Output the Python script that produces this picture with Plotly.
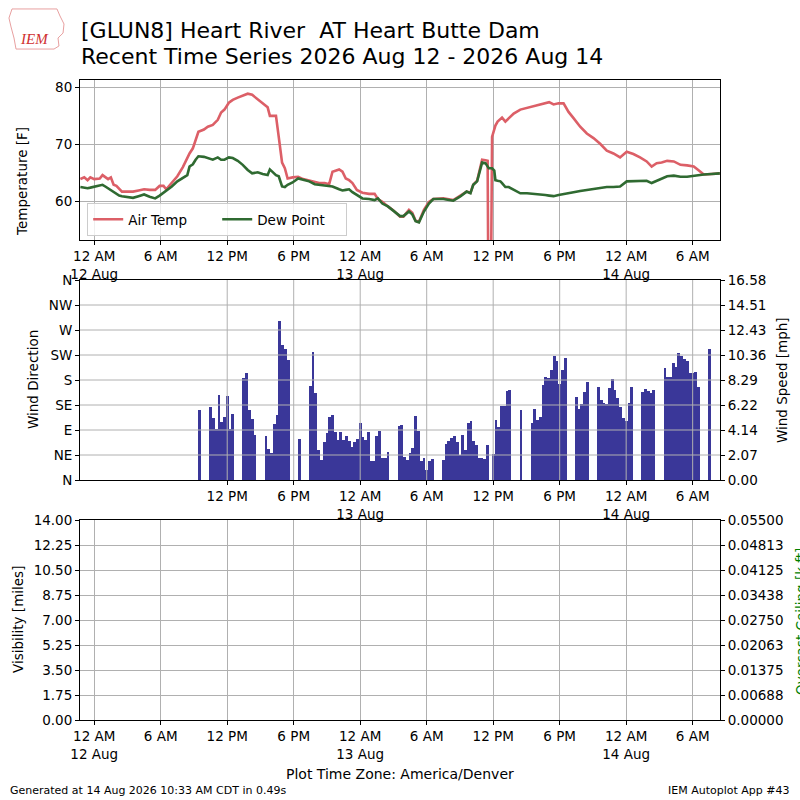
import pandas as pd
import plotly.graph_objs as go

# Air temp / dew point, hours after 2026-08-12 00:00 (America/Denver)
obs_hours = [-1.25, -0.9, -0.6, -0.35, 0.0, 0.25, 0.5, 0.75, 1.0, 1.25, 1.5, 1.75, 2.0, 2.25, 2.5,
             3.0, 3.5, 4.0, 4.5, 5.0, 5.5, 5.9, 6.25, 6.5, 7.0, 7.5, 8.0, 8.4, 8.6, 8.9, 9.15, 9.4,
             9.9, 10.25, 10.7, 11.15, 11.45, 11.75, 12.15, 12.5, 12.95, 13.4, 13.85, 14.25, 14.75,
             15.2, 15.65, 15.85, 16.4, 16.65, 16.95, 17.2, 17.45, 17.9, 18.4, 18.85, 19.4, 19.9,
             20.3, 20.8, 21.2, 21.5, 22.1, 22.4, 22.7, 23.0, 23.3, 23.7, 24.2, 24.8, 25.3, 25.6,
             26.0, 26.5, 27.0, 27.6, 27.9, 28.4, 28.7, 29.0, 29.3, 29.75, 30.2, 30.6, 31.5, 32.4,
             33.0, 33.6, 33.95, 34.2, 34.55, 34.85, 35.0, 35.3, 35.5, 35.6, 35.75, 35.9, 36.1,
             36.2, 36.4, 36.65, 36.8, 37.1, 37.4, 37.85, 38.45, 39.05, 39.65, 40.25, 40.7, 41.05,
             41.45, 41.9, 42.35, 42.8, 43.25, 43.85, 44.45, 45.05, 45.65, 46.25, 46.85, 47.45,
             48.05, 48.65, 49.25, 49.85, 50.3, 50.75, 51.2, 51.7, 52.3, 52.9, 53.5, 54.1, 54.7,
             55.0, 55.7, 56.45]
air_temp = [63.9, 64.2, 63.7, 64.2, 63.9, 64.0, 64.0, 64.6, 64.2, 63.9, 64.2, 62.9, 62.7, 62.2, 61.7,
            61.7, 61.7, 61.9, 62.1, 62.0, 62.0, 62.7, 62.7, 62.1, 63.3, 64.4, 66.0, 67.7, 68.4, 69.3,
            70.8, 72.2, 72.6, 73.1, 73.4, 74.3, 75.6, 76.1, 77.3, 77.8, 78.2, 78.6, 78.9, 78.7, 77.9,
            77.2, 76.5, 75.0, 75.0, 71.3, 66.8, 65.8, 64.0, 64.2, 64.3, 63.9, 63.6, 63.3, 63.2, 63.2,
            63.0, 65.2, 65.6, 65.2, 64.0, 63.7, 63.2, 62.0, 61.5, 61.3, 61.3, 60.4, 59.9, 59.1, 58.4,
            57.3, 57.3, 58.5, 58.0, 56.6, 56.4, 58.5, 59.9, 60.4, 60.5, 60.2, 60.9, 61.7, 61.5, 62.9,
            63.6, 65.8, 67.3, 67.2, 67.1, 32.0, 32.0, 71.3, 72.8, 73.3, 74.0, 74.4, 74.7, 74.0, 74.6,
            75.4, 76.1, 76.4, 76.7, 76.9, 77.1, 77.4, 77.0, 77.2, 77.2, 75.7, 74.6, 73.1, 71.9, 71.1,
            70.1, 68.9, 68.4, 67.7, 68.7, 68.3, 67.7, 67.0, 66.1, 66.7, 66.8, 67.1, 67.0, 66.4, 66.3,
            66.1, 65.2, 64.7, 64.8, 64.9]
dew_point = [62.5, 62.4, 62.3, 62.4, 62.6, 62.7, 62.8, 62.9, 62.6, 62.3, 62.0, 61.6, 61.3, 61.0, 60.9,
             60.7, 60.6, 60.9, 61.2, 60.8, 60.5, 61.0, 61.5, 61.9, 62.6, 63.5, 64.2, 64.6, 66.1, 66.5,
             67.3, 67.9, 67.8, 67.6, 67.3, 67.7, 67.3, 67.3, 67.7, 67.6, 67.1, 66.4, 65.5, 64.9, 65.1,
             64.8, 64.6, 65.6, 64.6, 64.4, 62.6, 62.5, 62.9, 63.3, 64.0, 63.8, 63.5, 63.0, 62.9, 62.7,
             62.7, 62.6, 62.1, 61.9, 62.0, 62.1, 61.6, 61.1, 60.5, 60.4, 60.2, 60.5, 59.6, 59.1, 58.4,
             57.4, 57.4, 58.2, 57.7, 56.5, 56.3, 58.2, 59.6, 60.4, 60.4, 60.1, 60.8, 61.7, 61.4, 62.9,
             63.5, 65.5, 66.8, 66.7, 66.0, 65.8, 65.8, 65.8, 65.4, 63.7, 63.6, 63.5, 63.2, 62.5, 62.5,
             62.0, 61.4, 61.4, 61.3, 61.3, 61.1, 61.0, 60.9, 61.1, 61.3, 61.5, 61.6, 61.8, 62.0, 62.1,
             62.4, 62.5, 62.5, 62.6, 63.5, 63.5, 63.5, 63.6, 63.2, 63.6, 64.1, 64.4, 64.5, 64.3, 64.3,
             64.5, 64.6, 64.7, 64.8, 64.9]

# Wind speed [mph], 15 minute obs starting 2026-08-12 09:30
wind_start = '2026-08-12 09:30'
N = None
wind_speed = [5.80, N, N, N, 6.05, 5.14, 4.23, 7.05, 4.81, 5.22, 6.97, 4.23, 5.47, N, N, N,
              8.46, 8.87, 5.80, 5.06, 3.73, N, N, N, 3.65, 2.57, 2.24, 4.64, 5.39, 13.18, 11.19,
              10.86, 9.95, N, N, N, 3.40, N, N, N, 7.79, 10.61, 7.21, 2.49, 1.66, 3.15, 3.90, 5.22,
              5.39, 3.98, 3.32, 3.98, 3.32, 3.65, 3.23, 2.76, 3.15, 3.40, 4.73, 3.57, 3.32, 3.98,
              1.58, 1.58, 3.65, 4.06, 1.82, 1.82, 2.32, N, N, N, 4.48, 4.56, 1.91, 1.66, 2.24, 2.65,
              5.31, 4.06, 1.58, 1.82, 0.83, 1.58, 1.74, N, N, N, 1.66, 2.99, 3.23, 3.48, 3.65, 3.15,
              2.07, 3.73, 2.49, 4.73, 4.89, 3.23, 2.90, 1.82, 1.82, 1.74, 2.90, N, 2.16, 4.98, 4.39,
              6.14, 6.14, 7.38, 7.46, N, N, N, 5.80, N, N, N, 4.73, 5.89, 4.98, 5.22, 7.88, 8.54,
              8.46, 9.12, 10.28, 9.87, 7.96, 9.12, 10.12, N, N, N, 6.88, 5.89, 6.30, 7.30, 8.13, N,
              N, N, 7.71, 6.63, 6.38, 6.30, 7.63, 8.37, 7.46, 6.80, 6.05, 5.14, 4.89, 6.38, 7.71, N,
              N, N, 7.30, 7.55, 7.38, 7.21, 7.46, N, N, N, 9.29, 8.54, 8.54, 9.70, 9.37, 10.53,
              10.28, 10.03, 9.87, 8.87, 8.87, 8.96, 7.71, N, N, N, 10.86]

tick_times = ['2026-08-12 00:00', '2026-08-12 06:00', '2026-08-12 12:00', '2026-08-12 18:00',
              '2026-08-13 00:00', '2026-08-13 06:00', '2026-08-13 12:00', '2026-08-13 18:00',
              '2026-08-14 00:00', '2026-08-14 06:00']
tick_labels = ['12 AM<br>12 Aug', '6 AM', '12 PM', '6 PM', '12 AM<br>13 Aug', '6 AM', '12 PM',
               '6 PM', '12 AM<br>14 Aug', '6 AM']
dir_vals = [0, 45, 90, 135, 180, 225, 270, 315, 360]
dir_labels = ['N', 'NE', 'E', 'SE', 'S', 'SW', 'W', 'NW', 'N']
speed_max = 16.58
vis_max = 14.0
ceil_max = 0.055

x_range = ['2026-08-11 22:43', '2026-08-14 08:28']

base = pd.Timestamp('2026-08-12 00:00')
obs_times = [base + pd.Timedelta(hours=h) for h in obs_hours]
wind_times = pd.date_range(wind_start, periods=len(wind_speed), freq='15min')

AIR = '#dc5f67'
DEW = '#2f6a31'
BAR = '#3a3799'
GRID = '#b0b0b0'
FONT = 'DejaVu Sans'

data = [
    go.Scatter(x=obs_times, y=air_temp, mode='lines', name='Air Temp',
               line=dict(color=AIR, width=2.6), xaxis='x', yaxis='y'),
    go.Scatter(x=obs_times, y=dew_point, mode='lines', name='Dew Point',
               line=dict(color=DEW, width=2.6), xaxis='x', yaxis='y'),
    go.Scatter(x=[], y=[], xaxis='x2', yaxis='y2', showlegend=False),
    go.Bar(x=wind_times, y=wind_speed, width=15 * 60 * 1000, marker=dict(color=BAR, line=dict(width=0)),
           xaxis='x2', yaxis='y3', showlegend=False),
    go.Scatter(x=[], y=[], xaxis='x3', yaxis='y4', showlegend=False),
    go.Scatter(x=[], y=[], xaxis='x3', yaxis='y5', showlegend=False),
]


def xax(anchor, vals, labels, grid=True):
    return dict(type='date', range=x_range, domain=[0.1, 0.9], anchor=anchor,
                tickmode='array', tickvals=vals, ticktext=labels,
                ticks='outside', ticklen=4, tickcolor='black', tickwidth=1,
                showline=True, linecolor='black', linewidth=1, mirror=True,
                showgrid=grid, gridcolor=GRID, gridwidth=1, zeroline=False, automargin=False,
                tickfont=dict(size=13.5, color='black'))


def yax(anchor, dom, rng, vals, labels, grid=True, side='left', overlay=None):
    d = dict(domain=dom, anchor=anchor, range=rng, tickmode='array', tickvals=vals, ticktext=labels,
             ticks='outside', ticklen=4, tickcolor='black', tickwidth=1,
             showline=True, linecolor='black', linewidth=1, mirror=(overlay is None),
             showgrid=grid, gridcolor=GRID, gridwidth=1, zeroline=False, side=side, automargin=False,
             tickfont=dict(size=13.5, color='black'))
    if overlay:
        d['overlaying'] = overlay
        d.pop('domain')
    return d


speed_ticks = [speed_max * i / 8 for i in range(9)]
vis_ticks = [vis_max * i / 8 for i in range(9)]
ceil_ticks = [ceil_max * i / 8 for i in range(9)]

layout = go.Layout(
    width=800, height=800, autosize=False,
    margin=dict(l=0, r=0, t=0, b=0, pad=0),
    paper_bgcolor='white', plot_bgcolor='white',
    font=dict(family=FONT, color='black'),
    xaxis=xax('y', tick_times, tick_labels),
    xaxis2=xax('y2', tick_times[2:], tick_labels[2:], grid=False),
    xaxis3=xax('y4', tick_times, tick_labels),
    yaxis=yax('x', [0.7, 0.9], [53.2, 81.3], [60, 70, 80], ['60', '70', '80']),
    yaxis2=yax('x2', [0.4, 0.65], [0, 360], dir_vals, dir_labels, grid=False),
    yaxis3=yax('x2', None, [0, speed_max], speed_ticks, ['%.2f' % v for v in speed_ticks],
               grid=False, side='right', overlay='y2'),
    yaxis4=yax('x3', [0.1, 0.35], [0, vis_max], vis_ticks, ['%.2f' % v for v in vis_ticks]),
    yaxis5=yax('x3', None, [0, ceil_max], ceil_ticks, ['%.5f' % v for v in ceil_ticks],
               grid=False, side='right', overlay='y4'),
    legend=dict(orientation='h', x=0.109, y=0.705, xanchor='left', yanchor='bottom',
                bgcolor='rgba(255,255,255,0.8)', bordercolor='#cccccc', borderwidth=1,
                font=dict(size=13.5), entrywidth=84, entrywidthmode='pixels'),
    bargap=0,
)

fig = go.Figure(data=data, layout=layout)

# grid of the wind panel sits above the bars (as matplotlib does)
shapes = []
for t in tick_times[2:]:
    shapes.append(dict(type='line', xref='x2', yref='y2 domain', x0=t, x1=t, y0=0, y1=1,
                       line=dict(color=GRID, width=1), layer='above'))
for v in dir_vals[1:-1]:
    shapes.append(dict(type='line', xref='x2 domain', yref='y2', x0=0, x1=1, y0=v, y1=v,
                       line=dict(color=GRID, width=1), layer='above'))


# IEM logo outline (pixel coords -> paper)
def px(x, y):
    return '%.4f,%.4f' % (x / 800, 1 - y / 800)


iowa = [(12, 9), (57, 9), (60, 16), (64, 24), (63, 33), (58, 38), (59, 46), (54, 49), (16, 49),
        (14, 38), (11, 27), (9, 18)]
path = 'M ' + ' L '.join(px(x, y) for x, y in iowa) + ' Z'
shapes.append(dict(type='path', xref='paper', yref='paper', path=path,
                   line=dict(color='#e8a0a0', width=1)))
fig.update_layout(shapes=shapes)


def note(text, x, y, size, color='black', angle=0, xanchor='center', yanchor='middle', family=FONT):
    fig.add_annotation(text=text, x=x / 800, y=1 - y / 800, xref='paper', yref='paper',
                       showarrow=False, textangle=angle, xanchor=xanchor, yanchor=yanchor,
                       font=dict(size=size, color=color, family=family))


note('[GLUN8] Heart River \u00a0AT Heart Butte Dam', 79, 31, 22, xanchor='left')
note('Recent Time Series 2026 Aug 12 - 2026 Aug 14', 79, 56, 22, xanchor='left')
note('<i>IEM</i>', 34, 39, 15, color='#d03030', family='Liberation Serif')
note('Temperature [F]', 22, 182, 13.5, angle=-90)
note('Wind Direction', 33, 380, 13.5, angle=-90)
note('Wind Speed [mph]', 782, 380, 13.5, angle=-90)
note('Visibility [miles]', 18, 620, 13.5, angle=-90)
note('Overcast Ceiling [k ft]', 801, 622, 13.5, color='green', angle=-90)
note('Plot Time Zone: America/Denver', 400, 774, 14)
note('Generated at 14 Aug 2026 10:33 AM CDT in 0.49s', 8, 790, 11, xanchor='left')
note('IEM Autoplot App #43', 792, 790, 11, xanchor='right')

# page body margin would push the 800x800 figure off the window
fig.write_html('out.html', config={'displayModeBar': False},
               post_script="document.body.style.margin='0';")
